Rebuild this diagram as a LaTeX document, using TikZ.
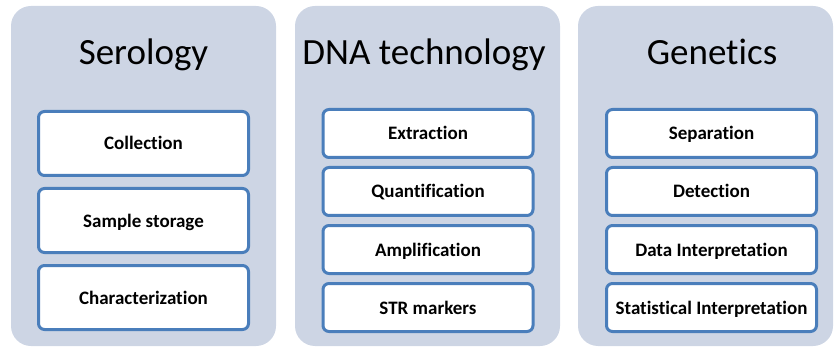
\documentclass[tikz,border=0pt]{standalone}
\usepackage{fontspec}
\setmainfont{Carlito}[Ligatures=NoCommon]
\usetikzlibrary{positioning}
\definecolor{panelfill}{HTML}{CDD5E4}
\definecolor{itemline}{HTML}{4A7EBB}

\tikzset{
  panel/.style  ={fill=panelfill, rounded corners=20pt, inner sep=0pt,
                  minimum width=265pt, minimum height=340pt},
  heading/.style={anchor=base, inner sep=0pt, font=\fontsize{37}{42}\selectfont},
  item/.style   ={draw=itemline, line width=3pt, fill=white, rounded corners=6pt,
                  inner sep=0pt, minimum width=210pt, minimum height=48pt,
                  text height=15pt, text depth=2pt,
                  font=\bfseries\fontsize{19}{23}\selectfont},
  tallitem/.style={item, minimum height=64pt},
}

\begin{document}
\begin{tikzpicture}[x=1pt, y=-1pt]
  \useasboundingbox (0,0) rectangle (834,347);
  % the three panels
  \node[panel] (ser) at (143.5,176) {};
  \node[panel] (dna) at (427.5,176) {};
  \node[panel, minimum width=255pt] (gen) at (705.5,176) {};
  \node[heading] (sertitle) at (143.5,65) {Serology};
  \node[heading] (dnatitle) at (424,65) {DNA technology};
  \node[heading] (gentitle) at (712,65) {Genetics};
  % serology
  \node[tallitem] (ser1) at (143.5,143.5) {Collection};
  \node[tallitem, below=10pt of ser1] (ser2) {Sample storage};
  \node[tallitem, below=10pt of ser2] (ser3) {Characterization};
  % dna technology
  \node[item] (dna1) at (428,133.5) {Extraction};
  \node[item, below=7pt of dna1] (dna2) {Quantification};
  \node[item, below=7pt of dna2] (dna3) {Amplification};
  \node[item, below=7pt of dna3] (dna4) {STR markers};
  % genetics
  \node[item] (gen1) at (711.5,133.5) {Separation};
  \node[item, below=7pt of gen1] (gen2) {Detection};
  \node[item, below=7pt of gen2] (gen3) {Data Interpretation};
  \node[item, below=7pt of gen3] (gen4) {Statistical Interpretation};
\end{tikzpicture}
\end{document}
